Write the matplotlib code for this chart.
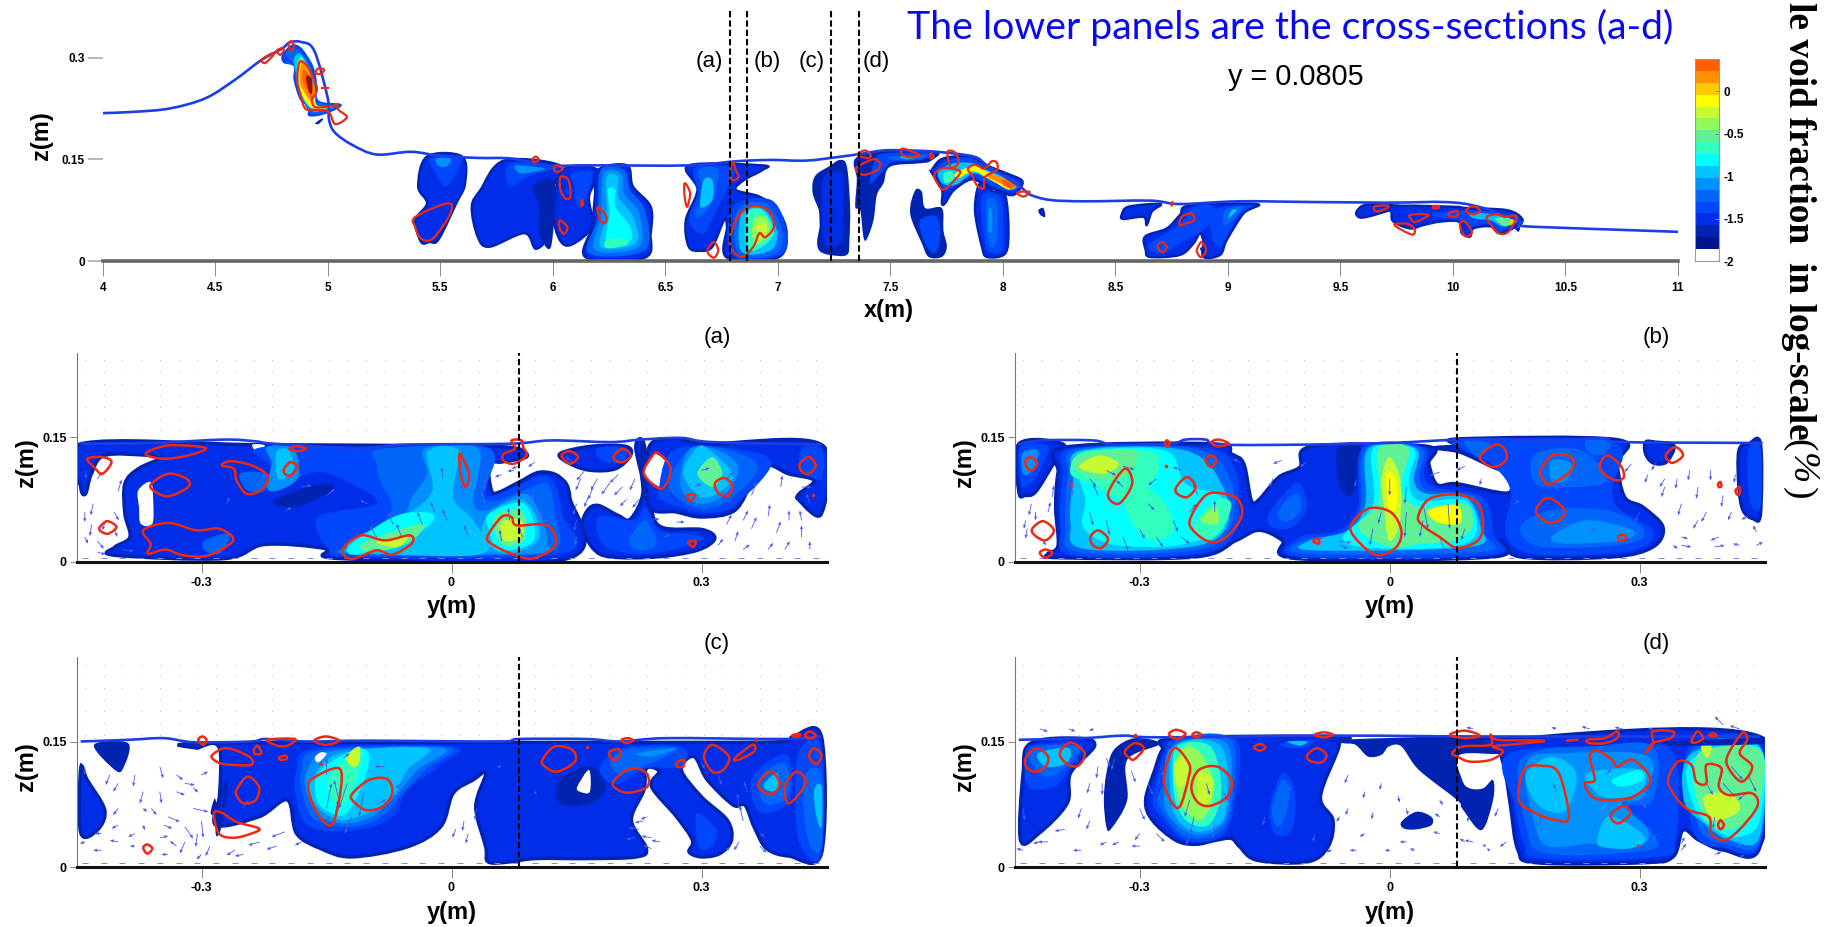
import numpy as np
import matplotlib
matplotlib.use("Agg")
import matplotlib.pyplot as plt
from matplotlib.path import Path
from matplotlib.patches import PathPatch
from matplotlib.colors import ListedColormap

# all outlines below were read off the picture, lengths in mm
# each fill is (colour level, outline); level 3 gets a darker rim

level_colours = ['#ffffff', '#00148c', '#0023b0', '#002de8', '#0046fa', '#0066fa', '#0091ff', '#00c3ff',
                 '#00ffff', '#30ffbe', '#60f096', '#91fa5a', '#c8fa32', '#ffff00', '#ffc800', '#ff9100', '#ff5f00']
deep_red = '#a01000'
bar_edges = [-2, -1.86, -1.72, -1.58, -1.44, -1.3, -1.16, -1.02, -0.88, -0.74, -0.6, -0.46, -0.32, -0.18, -0.04, 0.1, 0.24, 0.38]
bar_ticks = [-2, -1.5, -1, -0.5, 0]
section_x = [6.786, 6.861, 7.237, 7.36]
section_names = ['(a)', '(b)', '(c)', '(d)']
cut_y = 0.0805

top_surface = [(4000,218),(4143,220),(4300,225),(4457,240),(4587,267),(4704,296),(4796,313),(4830,322),(4880,323),
               (4940,310),(5000,240),(5005,210),(5030,190),(5110,171),(5217,157),(5370,161),(5500,155),(5665,152),(5821,151),
               (5978,141),(6135,141),(6213,141),(6605,141),(6813,147),(6970,149),(7126,148),(7283,154),(7370,158),(7470,163),
               (7577,163),(7706,161),(7870,154),(7930,141),(8075,110),(8120,98),(8210,90),(8365,88),(8655,89),(8786,84),
               (9047,88),(9360,87),(9700,86),(10040,85),(10290,60),(10300,52),(10480,49),(10740,46),(11000,43)]

top_fills = [
    (3, [(5441,154),(5597,154),(5610,114),(5571,85),(5493,32),(5453,28),(5415,28),(5389,60),(5441,85),(5402,110)]),
    (4, [(5454,151),(5584,154),(5571,129),(5519,110),(5480,129)]),
    (6, [(5480,151),(5545,151),(5532,140),(5493,140)]),
    (3, [(5783,148),(6031,141),(6005,110),(5992,45),(5926,18),(5874,41),(5718,21),(5666,36),(5640,80),(5679,105)]),
    (4, [(5810,144),(6018,139),(5887,124),(5810,110)]),
    (6, [(5835,141),(5965,136),(5861,129)]),
    (2, [(5913,110),(6005,115),(5992,21),(5939,41),(5939,80)]),
    (3, [(6044,134),(6200,134),(6161,95),(6174,51),(6083,24),(6031,31),(6005,70)]),
    (4, [(6083,129),(6174,131),(6148,95),(6109,80),(6096,110)]),
    (3, [(6200,134),(6330,141),(6356,110),(6435,80),(6435,41),(6409,5),(6148,5),(6174,51),(6187,95)]),
    (5, [(6213,134),(6317,134),(6343,105),(6409,75),(6409,16),(6161,11),(6200,65)]),
    (6, [(6226,129),(6304,129),(6317,100),(6383,70),(6383,21),(6187,16),(6213,65)]),
    (7, [(6239,124),(6291,124),(6291,95),(6357,65),(6370,26),(6213,21),(6239,70)]),
    (8, [(6244,105),(6278,105),(6278,80),(6343,51),(6343,29),(6239,24),(6252,70)]),
    (9, [(6239,31),(6317,33),(6330,24),(6239,19)]),
    (3, [(6605,141),(6931,141),(6931,134),(6853,120),(6813,105),(6918,95),(7000,75),(7039,41),(7000,5),(6774,5),(6774,50),
         (6761,60),(6709,21),(6656,15),(6604,21),(6591,60),(6643,105)]),
    (4, [(6631,137),(6800,137),(6774,105),(6735,80),(6670,41),(6605,60),(6643,100)]),
    (5, [(6645,134),(6735,134),(6709,90),(6656,65),(6631,70),(6670,100)]),
    (7, [(6670,119),(6709,119),(6709,90),(6656,80)]),
    (4, [(6800,80),(6970,90),(7039,45),(7013,9),(6800,9)]),
    (5, [(6820,75),(6945,85),(7018,45),(6992,11),(6826,11)]),
    (7, [(6839,70),(6931,78),(6996,45),(6970,16),(6839,14)]),
    (9, [(6865,70),(6931,75),(6983,43),(6931,21),(6865,19)]),
    (11, [(6891,60),(6944,65),(6965,41),(6925,28),(6891,26)]),
    (12, [(6905,52),(6944,55),(6950,41),(6915,33)]),
    (2, [(7277,149),(7307,139),(7321,80),(7318,31),(7307,9),(7230,9),(7185,15),(7175,30),(7190,65),(7155,100),(7165,125),(7230,140)]),
    (3, [(7200,125),(7290,130),(7295,85),(7290,30),(7210,20),(7190,65)]),
    (2, [(7344,151),(7470,163),(7707,161),(7677,147),(7632,144),(7499,139),(7470,115),(7440,97),(7425,60),(7395,32),(7380,36),(7366,75),(7344,80),(7351,120)]),
    (4, [(7440,154),(7484,159),(7692,159),(7632,149),(7514,146),(7470,134),(7410,114),(7425,144)]),
    (5, [(7499,154),(7662,156),(7603,149),(7514,149)]),
    (7, [(7544,154),(7632,154),(7573,150)]),
    (2, [(7610,104),(7640,102),(7655,78),(7729,78),(7736,45),(7751,21),(7729,6),(7670,6),(7640,26),(7588,70)]),
    (4, [(7632,60),(7707,65),(7721,31),(7692,11),(7647,31)]),
    (3, [(7684,134),(7721,149),(7781,154),(7862,154),(7929,141),(8018,129),(8084,119),(8077,107),(8040,97),(7966,105),(7914,114),
         (7855,120),(7781,104),(7743,85),(7729,85),(7729,105),(7684,130)]),
    (4, [(7707,137),(7781,151),(7862,151),(7929,139),(8069,117),(8062,105),(8040,102),(7966,109),(7914,117),(7855,124),(7781,110),(7736,105)]),
    (7, [(7714,132),(7781,144),(7869,144),(7929,134),(8055,117),(8040,105),(7944,119),(7870,129),(7788,112),(7729,115)]),
    (9, [(7736,129),(7773,132),(7781,120),(7744,115)]),
    (13, [(7788,129),(7870,140),(7929,132),(8033,115),(8025,105),(7944,120),(7870,132),(7803,122)]),
    (15, [(7936,129),(7988,124),(8055,115),(8040,106),(7973,117),(7929,124)]),
    (16, [(7996,120),(8055,115),(8036,107),(8003,112)]),
    (3, [(7884,102),(7906,115),(7958,102),(8010,97),(8025,46),(8010,11),(7929,6),(7907,21),(7877,70)]),
    (4, [(7906,95),(7988,95),(8003,50),(7996,16),(7936,14),(7914,41)]),
    (5, [(7929,90),(7973,85),(7973,31),(7944,21),(7929,41)]),
    (6, [(7936,75),(7951,75),(7951,45),(7936,45)]),
    (2, [(8158,75),(8180,78),(8188,65),(8166,68)]),
    (3, [(8528,68),(8558,80),(8699,84),(8662,73),(8639,53),(8625,65),(8536,62)]),
    (3, [(8632,36),(8728,48),(8787,68),(8832,82),(9128,84),(9069,70),(8995,31),(8965,9),(8891,6),(8891,28),(8876,41),(8847,26),
         (8787,9),(8654,6),(8635,16)]),
    (4, [(8654,26),(8787,55),(8847,80),(8936,80),(8906,50),(8787,26),(8713,11),(8654,16)]),
    (4, [(8936,75),(9113,82),(9054,70),(8995,36),(8965,21),(8928,36)]),
    (5, [(8987,75),(9069,80),(9002,55),(8980,55)]),
    (7, [(9017,75),(9040,75),(9002,63)]),
    (2, [(8876,19),(8898,19),(8891,9)]),
    (3, [(9572,73),(9617,83),(9765,81),(9721,75),(9617,65),(9580,65)]),
    (3, [(9728,70),(9736,81),(10002,80),(10062,78),(10239,75),(10306,63),(10292,53),(10210,41),(10165,51),(10091,48),(10076,36),(10039,41),
         (10025,58),(9943,58),(9869,53),(9809,48),(9736,58)]),
    (4, [(9913,70),(10062,75),(10239,70),(10292,60),(10210,43),(10165,55),(10076,51),(10032,60),(9943,63)]),
    (7, [(10076,70),(10150,70),(10284,60),(10225,51),(10165,60),(10091,63)]),
    (10, [(10192,63),(10284,63),(10232,51)]),
    (14, [(10254,60),(10291,61),(10254,53)]),
    (2, [(10276,48),(10298,50),(10291,43)]),
    (2, [(4944,203),(4973,210),(4978,208),(4959,202)]),
    (4, [(4796,304),(4840,319),(4877,316),(4907,304),(4936,287),(4951,267),(4959,237),(5055,232),(5048,225),(4973,215),(4914,214),(4914,228),(4877,237),(4848,267),(4848,287),(4803,292)]),
    (5, [(4810,304),(4840,314),(4877,309),(4922,287),(4944,262),(4951,235),(5043,228),(4973,219),(4922,218),(4885,242),(4855,272),(4855,289)]),
    (7, [(4848,296),(4877,306),(4922,282),(4944,252),(4951,230),(5033,228),(4944,220),(4907,230),(4877,247),(4862,272)]),
    (10, [(4862,287),(4885,301),(4914,279),(4944,247),(4951,228),(5018,227),(4944,223),(4907,232),(4877,252)]),
    (13, [(4870,287),(4889,294),(4919,277),(4936,252),(4951,230),(5010,227),(4936,225),(4899,237),(4877,257)]),
    (15, [(4877,282),(4892,292),(4929,267),(4944,250),(4929,235),(4899,247),(4877,262)]),
    (16, [(4892,282),(4922,272),(4936,255),(4929,240),(4907,252),(4889,267)]),
]
top_dark_core = [(4904,272),(4929,269),(4929,247),(4914,252)]

top_red = [
    [(4707,297),(4751,306),(4759,304),(4722,292)], [(4773,310),(4800,314),(4803,309),(4788,304)],
    [(4825,319),(4837,324),(4850,317),(4836,310)],
    [(4867,282),(4877,294),(4899,291),(4922,279),(4951,257),(4944,245),(4929,238),(4944,227),(5010,228),(5043,230),(5047,223),(5085,212),(5033,202),(5003,220),(4936,223),(4899,225),(4877,247),(4865,262)],
    [(4944,277),(4959,284),(4984,282),(4969,276)], [(4973,255),(5003,255)],
    [(5389,65),(5532,85),(5545,70),(5467,33),(5415,33),(5389,50)],
    [(5910,150),(5925,154),(5938,149),(5920,146)], [(6005,136),(6018,141),(6044,136),(6018,131)],
    [(6034,124),(6070,119),(6078,95),(6057,92),(6034,105)], [(6128,90),(6135,85),(6128,81)],
    [(6200,80),(6239,65),(6226,55),(6205,65)], [(6031,60),(6065,50),(6049,40),(6031,48)],
    [(6586,115),(6610,100),(6597,80),(6586,95)], [(6691,19),(6717,28),(6735,16),(6717,5),(6691,11)],
    [(6787,23),(6813,60),(6878,80),(6957,75),(6983,51),(6944,35),(6918,41),(6891,21),(6839,6)],
    [(6800,146),(6813,134),(6826,124),(6800,119),(6787,129)],
    [(7355,158),(7388,163),(7413,156),(7403,152),(7366,154)], [(7348,137),(7425,150),(7455,143),(7440,134),(7380,127)],
    [(7546,164),(7566,165),(7629,156),(7588,153),(7555,156)], [(7677,159),(7692,154),(7680,151)],
    [(7754,161),(7788,160),(7803,147),(7788,139),(7766,139)], [(7695,127),(7736,137),(7810,132),(7773,115),(7736,105),(7714,112)],
    [(7844,136),(7877,142),(7914,136),(7929,139),(7951,147),(7973,145),(7973,134),(7921,124),(7914,107),(7884,112),(7862,127)],
    [(8062,101),(8118,102),(8092,95)],
    [(8785,53),(8795,65),(8839,70),(8851,60),(8810,55)], [(8687,21),(8706,28),(8728,21),(8710,13)],
    [(8862,17),(8884,28),(8903,16),(8884,6),(8869,9)], [(8750,87),(8756,85),(8750,82)],
    [(9650,80),(9706,82),(9708,78),(9661,73)], [(9809,68),(9891,68),(9839,58),(9821,59)],
    [(9740,53),(9795,55),(9829,47),(9817,39)], [(9981,70),(10018,74),(10018,66),(9985,66)],
    [(9913,81),(9935,81),(9935,78),(9913,78)], [(10057,74),(10091,81),(10121,74),(10091,69)],
    [(10032,56),(10054,58),(10084,43),(10062,36),(10040,43)],
    [(10150,65),(10195,69),(10232,65),(10283,66),(10246,43),(10202,41),(10165,55)],
]

panel_a_surface = [(-445,142),(-358,143),(-273,147),(-236,145),(-212,142),(-114,137),(-53,141),(69,142),(120,146),(191,144),(227,147),(276,149),(313,144),(444,141)]
panel_a_fills = [
    (3, [(-445,142),(-445,90),(-439,82),(-432,106),(-416,128),(-364,128),(-349,125),(-376,112),(-392,94),(-392,58),(-386,30),(-404,18),(-404,8),(-273,4),(-224,21),(-151,16),(-132,4),(139,4),(142,78),(130,102),(106,108),(81,96),(57,84),(48,86),(45,118),(60,120),(90,126),(81,136),(45,139),(-53,140),(-236,141)]),
    (0, [(-239,141),(-224,140),(-233,132)]),
    (0, [(-375,66),(-376,86),(-361,96),(-358,74),(-359,46),(-373,46)]),
    (2, [(-213,74),(-157,94),(-142,86),(-188,66)]),
    (4, [(-227,138),(-53,137),(45,137),(41,86),(51,80),(84,94),(109,104),(124,94),(133,58),(133,10),(-114,6),(-148,16),(-160,54),(-90,70),(-120,94),(-157,108),(-187,100),(-218,84),(-218,114)]),
    (5, [(-84,136),(45,136),(38,82),(54,74),(87,86),(115,94),(124,58),(124,14),(38,8),(-114,8),(-132,16),(-90,42),(-71,66),(-84,94),(-90,118)]),
    (6, [(-32,136),(32,136),(26,74),(41,62),(87,82),(106,58),(115,22),(99,10),(-114,10),(-126,18),(-65,46),(-47,78),(-29,106)]),
    (7, [(-29,132),(8,134),(2,78),(26,50),(38,10),(-90,10),(-123,16),(-114,30),(-53,58),(-23,86)]),
    (7, [(45,58),(87,74),(106,30),(69,10),(38,26)]),
    (8, [(-120,22),(-65,56),(-23,58),(-29,42),(-65,22),(-102,10),(-123,10)]),
    (8, [(45,58),(87,70),(99,26),(57,14),(45,38)]),
    (10, [(-108,22),(-53,42),(-32,44),(-53,22),(-96,12)]),
    (10, [(51,54),(84,62),(87,26),(60,22)]),
    (12, [(-90,24),(-53,32),(-65,18)]),
    (12, [(60,48),(84,50),(84,30),(63,26)]),
    (6, [(-222,138),(-190,136),(-184,102),(-208,86),(-222,90),(-216,118)]),
    (7, [(-210,132),(-195,134),(-190,110),(-208,100)]),
    (5, [(-296,26),(-266,34),(-278,10),(-296,14)]),
    (5, [(-254,106),(-224,106),(-224,86),(-245,86)]),
    (3, [(130,130),(167,139),(209,139),(215,128),(197,112),(167,110),(142,118)]),
    (4, [(175,137),(209,137),(205,120),(180,122)]),
    (3, [(221,138),(231,142),(239,70),(252,42),(301,39),(316,28),(295,14),(246,6),(191,6),(170,16),(157,42),(163,62),(176,68),(200,56),(215,52),(230,86)]),
    (2, [(226,138),(232,140),(237,72),(228,88)]),
    (4, [(176,54),(220,50),(232,66),(250,38),(287,34),(300,26),(240,10),(185,18)]),
    (5, [(213,26),(232,50),(246,22),(225,14)]),
    (3, [(237,68),(237,138),(270,148),(307,142),(444,141),(444,58),(417,74),(417,82),(435,98),(404,106),(380,116),(362,98),(340,62),(301,54),(270,60)]),
    (0, [(231,106),(243,130),(263,112),(255,90),(237,98)]),
    (4, [(248,82),(266,134),(340,136),(384,118),(336,66),(296,60),(252,74)]),
    (5, [(261,90),(285,134),(327,136),(368,114),(332,74),(297,64)]),
    (6, [(275,90),(284,134),(315,136),(344,114),(327,80),(297,70)]),
    (7, [(278,106),(295,138),(310,134),(337,106),(325,86),(300,78)]),
    (10, [(295,106),(313,126),(325,106),(313,90)]),
    (4, [(420,136),(444,136),(444,100),(420,110)]),
]
panel_a_red = [
    [(-437,124),(-419,126),(-408,120),(-419,106),(-429,114)], [(-367,130),(-340,140),(-295,137),(-316,128),(-346,124)],
    [(-360,94),(-340,106),(-318,100),(-316,90),(-340,79),(-358,86)], [(-276,116),(-264,121),(-237,115),(-220,102),(-229,86),(-246,82),(-258,98),(-261,112)],
    [(-195,136),(-185,139),(-175,136),(-185,133)], [(-201,112),(-193,120),(-185,114),(-193,104),(-200,106)],
    [(-422,42),(-413,49),(-402,42),(-412,34),(-421,37)], [(-370,38),(-340,47),(-306,38),(-279,40),(-262,26),(-292,8),(-322,8),(-343,15),(-364,10),(-361,22)],
    [(-129,18),(-108,32),(-80,26),(-50,32),(-48,22),(-71,9),(-90,14),(-117,4),(-129,8)], [(10,130),(21,106),(17,90),(11,106)],
    [(72,146),(84,146),(86,138),(90,128),(75,118),(62,122),(63,130),(76,136)], [(43,30),(60,54),(72,54),(78,44),(112,45),(125,30),(121,16),(96,4),(72,10),(51,20)],
    [(132,128),(142,133),(152,126),(142,118)], [(195,128),(206,136),(215,128),(206,120),(197,122)],
    [(240,126),(248,131),(263,112),(252,88),(231,106)], [(283,81),(292,80),(286,73)],
    [(316,94),(327,101),(337,92),(332,80),(321,82)], [(284,24),(293,25),(290,18)], [(418,118),(429,126),(437,116),(429,106),(420,109)],
]
panel_a_dots = [(434,80)]
panel_a_arrows = [(-430,70,-3,-14),(-432,45,-2,-14),(-425,25,8,-9),(-405,60,6,-10),(-400,85,4,14),(-425,100,6,8),(-440,30,4,-8),
                  (155,100,-6,-14),(170,90,-6,-15),(190,95,-10,-14),(205,90,-10,-10),(225,75,-8,-10),(150,70,-4,-14),(165,80,-6,-14),(145,120,-8,6),
                  (100,120,-8,-6),(80,115,-8,-3),(240,50,10,2),(270,48,10,0),(330,45,6,12),(360,40,6,14),(390,35,5,14),(420,30,0,14),(340,25,4,12),(380,15,6,8),(420,50,-2,12),
                  (-20,60,-5,12),(-5,50,-6,13),(20,30,-5,14),(-60,30,-6,16),(-35,45,-6,15),(40,100,0,-14),(-180,90,12,2),(70,50,-2,15),(100,70,-3,12),(300,110,10,3),(420,90,12,0),
                  (-440,60,0,-12),(-415,50,-4,-12),(-405,40,4,-10),(-395,15,14,-2),(-425,12,10,-3),(-440,110,2,-10),(60,105,-8,-3),(75,110,-8,-1),(150,50,-3,-13),(160,110,-10,-12),
                  (175,100,-8,-14),(210,75,-8,-8),(200,105,-10,-10),(220,100,-6,-14),(150,30,-2,-10),(255,30,8,3),(320,20,6,8),(350,15,8,6),(400,15,6,10),(430,15,0,10),(405,50,0,12),
                  (380,55,2,14),(350,50,6,12),(360,80,6,16),(395,90,2,14),(430,70,-4,12),(-270,70,4,8),(-200,60,8,6),(-100,70,-10,4),(-150,80,10,8),(-10,100,-2,14),(15,80,-4,14),
                  (40,70,-4,14),(60,25,-2,14),(85,30,-4,12),(110,50,-3,12),(-70,45,-6,14),(-90,30,-8,14),(290,90,10,4),(330,100,8,8)]

panel_b_surface = [(-446,141),(-417,146),(-356,146),(-331,141),(-264,142),(-245,147),(-221,147),(-203,141),(-99,141),(0,143),(84,147),(151,147),(181,144),(236,148),(261,148),(279,144),(426,143),(445,142)]
panel_b_fills = [
    (3, [(-445,142),(-391,141),(-406,114),(-425,84),(-437,80),(-445,84)]),
    (4, [(-443,138),(-410,138),(-422,106),(-437,90),(-443,98)]),
    (6, [(-441,130),(-422,134),(-428,110),(-440,106)]),
    (3, [(-401,66),(-398,108),(-389,138),(-212,142),(-190,130),(-175,118),(-166,74),(-157,75),(-133,102),(-108,114),(-93,139),(45,139),(47,118),(57,93),(81,94),(142,83),(139,106),(121,115),(84,132),(54,137),(81,140),(84,148),(273,147),(273,118),(282,78),(304,66),(328,42),(316,18),(267,6),(157,6),(133,26),(124,6),(-111,4),(-129,26),(-157,38),(-184,26),(-233,6),(-395,5),(-410,10),(-398,20)]),
    (2, [(-62,138),(-35,138),(-41,90),(-50,78),(-62,98)]),
    (4, [(-392,106),(-380,137),(-220,137),(-185,110),(-181,74),(-184,38),(-227,10),(-380,8),(-395,42)]),
    (5, [(-386,106),(-374,136),(-233,136),(-191,98),(-191,42),(-233,14),(-374,12),(-389,42)]),
    (7, [(-380,98),(-371,134),(-245,134),(-200,90),(-196,42),(-239,18),(-368,16),(-383,46)]),
    (8, [(-374,106),(-368,132),(-270,134),(-245,94),(-202,78),(-202,38),(-245,22),(-282,18),(-337,22),(-368,42),(-365,74)]),
    (9, [(-383,106),(-368,132),(-294,134),(-276,122),(-288,90),(-319,74),(-356,94)]),
    (10, [(-380,114),(-368,130),(-306,134),(-312,106),(-343,98)]),
    (12, [(-373,114),(-349,128),(-325,118),(-343,106)]),
    (9, [(-236,42),(-209,74),(-190,70),(-202,38),(-221,26)]),
    (11, [(-227,50),(-209,66),(-206,46)]),
    (9, [(-312,98),(-276,78),(-258,42),(-282,26),(-306,42),(-319,74)]),
    (4, [(-145,58),(-123,86),(-108,94),(-99,66),(-117,42),(-142,42)]),
    (5, [(-135,58),(-120,78),(-108,80),(-108,60),(-125,48)]),
    (4, [(-32,138),(41,138),(41,106),(54,90),(112,78),(124,34),(121,8),(-108,6),(-108,30),(-62,38),(-38,66)]),
    (5, [(-29,137),(38,137),(35,102),(47,86),(103,78),(114,34),(111,12),(-102,10),(-105,26),(-56,36),(-35,66)]),
    (7, [(-26,136),(32,136),(29,98),(44,82),(90,80),(109,42),(96,18),(-93,14),(-96,26),(-50,38),(-29,70)]),
    (8, [(-20,136),(29,136),(23,98),(35,74),(90,74),(105,42),(90,22),(41,16),(-32,18),(-56,30),(-20,70)]),
    (10, [(-13,136),(23,136),(14,90),(35,66),(90,70),(99,42),(78,26),(35,22),(-1,18),(-38,42),(-13,74)]),
    (12, [(-1,126),(11,106),(14,78),(11,42),(-1,26),(-7,66),(-10,98)]),
    (13, [(47,62),(81,68),(84,46),(57,48)]),
    (13, [(-4,106),(8,98),(8,66),(-1,62)]),
    (4, [(87,146),(267,144),(267,90),(273,66),(316,38),(304,18),(261,10),(169,10),(139,34),(145,86),(121,118),(90,134)]),
    (5, [(175,130),(230,134),(261,98),(218,90),(175,94)]),
    (5, [(157,42),(194,62),(261,62),(304,40),(286,22),(182,18)]),
    (6, [(194,122),(218,118),(212,98),(194,98)]),
    (6, [(194,30),(236,50),(292,38),(279,26),(212,22)]),
    (5, [(90,146),(120,142),(108,126),(96,134)]),
    (5, [(236,146),(264,146),(258,130),(240,130)]),
    (3, [(307,144),(319,144),(341,140),(332,120),(316,119),(307,130)]),
    (3, [(419,134),(431,142),(445,142),(445,58),(436,52),(424,62),(419,90)]),
    (4, [(430,134),(445,138),(445,66),(432,74)]),
]
panel_b_red = [
    [(-437,122),(-431,126),(-423,119),(-429,110),(-436,114)], [(-429,40),(-416,49),(-403,38),(-413,26),(-426,32)],
    [(-420,11),(-413,15),(-405,11),(-413,5)], [(-359,30),(-350,38),(-338,28),(-346,17),(-356,20)],
    [(-338,82),(-318,112),(-309,94),(-325,70)], [(-256,90),(-243,102),(-233,90),(-243,78),(-255,82)],
    [(-240,50),(-221,80),(-199,82),(-181,74),(-178,54),(-196,30),(-214,24),(-232,34)], [(-221,122),(-214,128),(-208,122),(-214,114)],
    [(-214,144),(-205,147),(-193,142),(-207,139)], [(-270,143),(-267,146),(-264,142),(-267,139)], [(-47,42),(-26,64),(1,60),(14,38),(8,18),(-14,8),(-35,22)],
    [(34,54),(48,76),(81,81),(106,70),(112,46),(106,26),(81,17),(60,30),(42,42)], [(-92,25),(-86,28),(-85,22)],
    [(108,126),(127,141),(139,134),(139,122),(124,114)], [(181,110),(196,128),(218,126),(218,110),(194,94),(185,98)],
    [(252,116),(261,128),(277,116),(281,102),(271,98),(257,106)], [(176,64),(190,77),(209,64),(206,52),(192,47),(180,54)],
    [(274,30),(280,33),(284,29),(277,25)], [(331,128),(343,138),(352,128),(339,119)], [(394,94),(397,96),(398,91),(395,90)],
    [(415,86),(420,90),(420,82),(417,81)],
]
panel_b_dots = [(-382,94),(-269,115)]
panel_b_arrows = [(-430,70,-3,-14),(-420,30,8,-10),(-435,40,-2,-12),(-405,78,2,14),(-410,60,3,12),
                  (-130,122,-10,-4),(-100,120,-8,-6),(-140,100,-4,-10),(60,108,-12,-4),(90,115,-10,-5),(-180,120,-8,4),
                  (290,118,-8,-10),(310,105,-4,-10),(330,90,-4,-12),(350,70,-4,-14),(370,50,-6,-10),(395,30,-10,-4),(420,20,-8,2),(440,36,-4,8),
                  (360,110,-2,-12),(385,110,0,-12),(400,80,-2,-14),(350,30,8,-2),(330,100,-6,-10),(415,105,-2,-10),(340,20,6,-4),
                  (-320,90,-8,8),(-290,70,8,-8),(-260,50,6,-14),(-350,80,-6,14),(-240,60,8,10),(-300,40,6,-12),(20,90,-2,-20),(40,50,-4,-20),(60,30,8,-22),(-10,60,-4,-14),(-60,20,10,-4),
                  (-437,50,-2,-10),(-425,60,0,-10),(-360,100,8,-10),(-340,110,12,-6),(-320,115,14,-4),(-380,80,-2,14),(-360,60,4,-16),(-340,50,4,-18),(-320,30,6,-16),(-280,100,-10,-8),
                  (-250,110,-10,4),(-230,80,-6,14),(-280,30,8,-12),(-250,30,10,-8),(-210,60,0,14),(-120,55,6,4),(-90,30,10,-2),(-60,25,14,-2),(-40,100,-2,-10),(-20,40,-4,-20),(0,100,0,-20),
                  (20,60,-2,-30),(40,70,6,-30),(70,70,2,-30),(90,40,-4,-14),(110,100,-2,-8),(150,70,6,4),(200,40,10,2),(240,40,8,-2),(300,40,-6,-8),(300,60,-6,-12),(320,120,-6,-10),
                  (345,100,-2,-12),(370,90,-2,-14),(380,60,-6,-12),(410,60,-4,-10),(430,55,-8,-4),(350,20,12,-2),(390,18,12,2),(440,20,8,4)]

panel_c_surface = [(-445,150),(-388,152),(-345,154),(-308,149),(-241,150),(-223,153),(-175,150),(-102,151),(56,150),(81,153),(161,153),(203,150),(258,154),(398,153),(444,156)]
panel_c_fills = [
    (3, [(-445,118),(-437,104),(-416,68),(-425,44),(-445,41)]),
    (2, [(-429,146),(-388,148),(-394,118),(-404,116)]),
    (3, [(-306,142),(-297,148),(60,149),(300,149),(398,150),(410,156),(444,156),(444,16),(405,13),(378,22),(363,48),(352,74),(338,74),(307,104),(291,132),(276,116),(300,84),(331,56),(336,32),(322,16),(300,12),(285,18),(289,32),(270,60),(240,96),(249,114),(234,118),(231,92),(216,56),(234,22),(222,12),(167,10),(101,10),(70,6),(44,6),(41,24),(29,72),(41,112),(26,104),(2,88),(-13,48),(-53,24),(-120,12),(-157,22),(-186,40),(-197,80),(-231,60),(-284,51),(-270,100),(-281,40),(-278,140)]),
    (2, [(-289,64),(-284,82),(-281,64)]),
    (2, [(130,104),(167,120),(185,96),(167,76),(130,76)]),
    (4, [(-186,116),(-162,142),(2,144),(-16,120),(-53,92),(-71,60),(-114,44),(-170,48),(-186,80)]),
    (5, [(-180,116),(-157,140),(-4,143),(-29,118),(-59,88),(-84,60),(-120,48),(-163,56),(-178,84)]),
    (6, [(-174,112),(-145,138),(-10,142),(-41,116),(-68,84),(-96,60),(-126,52),(-157,60),(-172,84)]),
    (7, [(-168,104),(-133,136),(-29,142),(-53,116),(-71,84),(-102,64),(-133,56),(-157,68),(-168,84)]),
    (8, [(-160,112),(-130,134),(-102,140),(-102,112),(-126,64),(-151,68),(-163,84)]),
    (9, [(-148,104),(-126,132),(-108,142),(-114,104),(-132,72),(-145,84)]),
    (12, [(-126,132),(-111,144),(-111,124),(-120,120)]),
    (7, [(-84,136),(-53,142),(-53,132),(-77,130)]),
    (0, [(-164,131),(-157,137),(-150,135),(-160,125)]),
    (0, [(151,96),(165,116),(166,90),(154,90)]),
    (4, [(179,120),(203,142),(276,144),(276,120),(234,118),(203,100),(185,104)]),
    (5, [(191,124),(209,140),(270,142),(240,124),(203,112)]),
    (6, [(223,136),(270,142),(240,132)]),
    (4, [(364,112),(403,134),(406,80),(375,64),(360,84)]),
    (5, [(371,108),(401,124),(403,84),(375,76)]),
    (7, [(375,100),(391,112),(391,92),(378,92)]),
    (4, [(416,136),(444,144),(444,16),(422,20),(413,60)]),
    (5, [(422,104),(444,112),(444,24),(428,32)]),
    (7, [(435,92),(444,96),(444,48),(438,60)]),
    (4, [(294,64),(318,44),(312,24),(297,24)]),
]
panel_c_red = [
    [(-304,152),(-299,156),(-294,152),(-298,146)], [(-287,134),(-270,142),(-243,132),(-241,122),(-273,123),(-285,128)],
    [(-237,140),(-233,145),(-228,136),(-236,135)], [(-258,92),(-245,108),(-231,96),(-235,80),(-249,76),(-257,84)],
    [(-285,64),(-276,65),(-258,54),(-231,46),(-240,40),(-261,35),(-279,40)], [(-370,23),(-365,27),(-359,22),(-365,16)],
    [(-221,152),(-188,153),(-197,145),(-209,145)], [(-207,131),(-199,133),(-198,129),(-205,128)],
    [(-165,151),(-151,156),(-135,151),(-151,146)], [(-172,96),(-163,108),(-135,118),(-133,92),(-144,50),(-163,68)],
    [(-120,86),(-99,104),(-77,105),(-71,88),(-83,72),(-102,68),(-115,76)], [(109,128),(124,144),(145,140),(148,126),(127,114),(112,120)],
    [(189,137),(200,141),(203,134),(194,128)], [(194,102),(215,118),(234,112),(235,96),(215,89),(200,92)],
    [(204,152),(212,154),(218,151),(209,148)], [(271,125),(279,128),(278,120),(271,120)], [(303,132),(313,146),(333,132),(326,116),(313,114)],
    [(340,130),(361,146),(363,138),(344,128)], [(368,100),(383,114),(394,100),(386,88),(374,90)], [(400,96),(414,114),(425,100),(405,76)],
    [(429,132),(435,142),(444,134),(438,123)], [(424,157),(430,162),(437,157),(430,154)], [(410,158),(418,159),(417,156),(410,156)],
]
panel_c_dots = [(365,152),(163,143),(-157,123)]
panel_c_arrows = [(-410,110,-5,-12),(-380,110,-2,-14),(-350,120,4,-14),(-330,90,10,-4),(-400,70,-6,-8),(-360,70,6,-8),(-340,60,14,-6),(-310,70,18,-4),(-380,40,-8,-4),(-350,35,10,2),(-320,48,10,-14),
                  (-305,40,-2,-16),(-290,25,-5,-12),(-260,20,-10,-6),(-230,30,-14,-4),(-200,42,-16,-6),(-330,25,-8,6),(-400,30,-10,2),(-420,20,-10,0),(-370,70,5,-4),(-300,110,8,4),(-310,95,6,-6),
                  (30,70,-2,-14),(15,55,-2,-12),(235,60,-8,-3),(225,45,-12,2),(250,30,-10,2),(240,22,-10,4),(300,125,4,-8),(350,55,-4,18),(345,30,-6,-10),(370,25,8,-8),(-150,70,6,30),(-135,80,-6,24),(-120,60,-8,-20),(-125,100,-10,-30),(-90,75,12,6),(-130,130,8,6),(60,120,-6,0),
                  (-440,120,0,-10),(-400,100,-6,-10),(-370,90,-4,-14),(-350,90,2,-14),(-330,110,8,-6),(-320,100,12,-2),(-400,50,-8,-4),(-370,50,2,-6),(-345,50,10,-4),(-300,55,2,-20),(-320,30,-6,-14),(-300,15,-6,-6),
                  (-250,15,-10,-2),(-210,25,-12,-4),(-180,30,-8,-4),(-420,40,-8,0),(-440,30,-6,-2),(-380,25,-6,0),(-340,15,-8,0),(-250,70,6,10),(-150,110,0,20),(-105,90,-6,-30),(-140,60,4,20),(-80,120,-12,0),
                  (-60,100,-8,-6),(100,90,2,-4),(20,40,-3,-12),(5,45,-4,-10),(230,55,-10,-2),(240,35,-12,2),(220,35,-10,-2),(330,20,4,4),(345,70,-2,18),(355,90,-4,12),(370,40,6,-4),(320,110,4,-12)]

panel_d_surface = [(-445,152),(-368,154),(-319,157),(-276,155),(-62,157),(120,156),(444,156)]
panel_d_fills = [
    (3, [(-431,148),(-374,154),(-354,145),(-383,112),(-387,76),(-421,40),(-443,32),(-440,112)]),
    (4, [(-437,136),(-424,146),(-370,146),(-385,116),(-403,96),(-434,96)]),
    (5, [(-434,132),(-419,144),(-373,144),(-388,120),(-413,108)]),
    (7, [(-422,136),(-385,142),(-388,124),(-413,120)]),
    (2, [(-331,140),(-306,154),(-276,147),(-315,128),(-315,80),(-334,46),(-340,48),(-343,80),(-340,112)]),
    (3, [(-273,140),(-257,154),(-62,156),(-62,148),(-62,140),(-83,84),(-68,56),(-74,24),(-99,6),(-159,8),(-180,24),(-190,34),(-208,32),(-233,27),(-257,32),(-285,56),(-293,80),(-282,116)]),
    (4, [(-270,136),(-257,152),(-184,152),(-187,72),(-203,36),(-245,32),(-278,64),(-284,84)]),
    (5, [(-264,112),(-254,152),(-190,152),(-190,72),(-206,40),(-245,36),(-272,64),(-278,84)]),
    (6, [(-261,144),(-196,148),(-193,72),(-209,44),(-239,40),(-267,64),(-270,96)]),
    (7, [(-258,144),(-202,144),(-196,72),(-209,48),(-239,44),(-261,72)]),
    (9, [(-255,144),(-215,144),(-202,92),(-215,52),(-239,52),(-255,72),(-260,104)]),
    (11, [(-258,120),(-245,144),(-227,136),(-212,104),(-215,72),(-230,56),(-249,72),(-258,100)]),
    (12, [(-258,124),(-245,132),(-242,104),(-254,96)]),
    (12, [(-230,112),(-212,104),(-218,76),(-230,76)]),
    (4, [(-144,72),(-129,112),(-114,92),(-117,44),(-138,40)]),
    (5, [(-141,72),(-129,104),(-120,88),(-129,52),(-138,52)]),
    (4, [(-129,148),(-93,152),(-99,144),(-124,142)]),
    (7, [(-123,150),(-99,150),(-108,145)]),
    (2, [(-62,152),(139,156),(139,136),(84,134),(87,104),(96,94),(112,94),(124,104),(124,80),(110,44),(87,70),(81,80),(35,116),(14,144),(-1,144),(-10,134),(-26,132),(-41,146),(-56,148)]),
    (2, [(14,54),(32,66),(50,60),(50,50),(32,45),(17,46)]),
    (3, [(133,136),(133,152),(444,156),(444,23),(401,20),(371,32),(352,44),(340,12),(303,5),(176,5),(154,20),(145,72),(139,112)]),
    (4, [(145,136),(303,144),(331,148),(346,112),(343,32),(322,12),(182,10),(161,28),(151,72)]),
    (5, [(154,120),(182,140),(243,144),(316,144),(316,80),(286,72),(316,40),(310,20),(188,16),(164,48)]),
    (6, [(164,124),(212,136),(310,132),(304,84),(279,76),(310,44),(298,24),(243,28),(194,24),(176,44)]),
    (7, [(164,112),(194,132),(224,112),(212,68),(188,68),(170,84)]),
    (7, [(249,32),(261,60),(292,48),(307,32),(286,22),(255,24)]),
    (7, [(237,112),(304,116),(298,88),(255,84)]),
    (8, [(267,104),(298,116),(304,104),(279,96)]),
    (4, [(359,144),(444,146),(444,26),(401,23),(365,42)]),
    (5, [(362,140),(444,144),(444,30),(405,27),(371,48)]),
    (7, [(362,136),(444,144),(444,36),(408,32),(377,52),(353,80)]),
    (8, [(362,128),(444,142),(444,56),(419,36),(395,42),(365,72)]),
    (10, [(377,140),(444,140),(444,80),(419,48),(388,48),(370,76),(365,112)]),
    (12, [(377,84),(408,88),(420,68),(389,56)]),
    (12, [(374,145),(386,145),(383,132),(377,134)]),
    (2, [(338,150),(444,154),(444,147),(338,145)]),
]
panel_d_red = [
    [(-437,130),(-424,142),(-410,132),(-413,120),(-424,114),(-435,118)], [(-396,136),(-383,149),(-366,136),(-374,121),(-387,123)],
    [(-318,138),(-306,148),(-295,142),(-306,129),(-312,130)], [(-271,106),(-259,142),(-241,124),(-241,108),(-252,72),(-263,80)],
    [(-238,96),(-229,116),(-207,120),(-190,104),(-195,84),(-216,73),(-231,78)], [(-265,159),(-256,164),(-245,159),(-256,153)],
    [(-237,158),(-232,161),(-226,158),(-232,155)], [(-163,143),(-156,147),(-149,143),(-156,139)], [(-99,134),(-87,142),(-76,134),(-82,125),(-96,127)],
    [(-90,158),(-79,161),(-68,158),(-79,155)], [(72,158),(90,163),(108,157),(90,154)],
    [(75,136),(87,144),(121,146),(121,158),(130,152),(185,151),(152,147),(124,144),(136,138),(121,128),(96,126),(81,132)],
    [(213,151),(225,152)], [(237,152),(258,154),(273,162),(273,154),(258,148),(240,148)],
    [(155,80),(161,116),(182,121),(203,112),(215,60),(200,56),(176,64)], [(234,100),(246,104),(240,132),(249,139),(267,128),(273,120),(292,128),(313,104),(292,84),(261,80),(243,84)],
    [(265,62),(280,73),(289,64),(274,52)], [(307,136),(316,148),(316,162),(340,162),(337,154),(316,148)], [(362,150),(369,162),(376,154),(368,149)],
    [(334,104),(346,126),(362,122),(368,102),(380,100),(380,122),(398,118),(395,96),(407,86),(435,88),(441,72),(419,44),(401,32),(386,40),(383,60),(359,68),(343,84)],
    [(405,132),(423,160),(429,152),(420,136),(435,120),(423,102),(408,116)], [(394,50),(397,56),(401,50),(397,45)], [(383,158),(389,160),(392,157),(387,156)],
]
panel_d_dots = [(298,25),(-306,158)]
panel_d_arrows = [(-330,130,-4,-14),(-350,120,-2,-14),(-370,70,-4,-12),(-360,100,-3,-12),(-310,115,5,-14),(-300,70,6,-14),(-280,40,10,-10),(-390,45,-12,-2),(-410,30,-12,0),(-440,20,-8,2),
                  (-340,30,-8,-4),(-300,25,-10,0),(-50,110,-4,-10),(-30,90,-2,-8),(-10,100,-2,-8),(10,85,2,-8),(-60,60,-4,-6),(-30,40,-6,-4),(20,30,-8,0),(60,40,-8,2),(100,30,-10,2),(130,70,-4,-10),(95,60,-2,-6),(140,30,-8,-6),(60,80,4,-6),(-420,165,10,-3),(-385,165,8,-3),
                  (-355,165,-6,-2),(240,165,-10,3),(280,165,-10,2),(400,170,-10,10),(420,165,-12,4),(350,20,6,8),(390,15,8,3),(420,12,6,2),(-240,80,-6,-20),(-220,100,4,-14),(-235,60,-4,-20),(430,110,10,-20),(400,100,14,-16),
                  (-440,70,2,-14),(-420,30,-8,-2),(-370,20,-10,0),(-360,55,-4,-10),(-345,100,0,-14),(-340,130,4,-10),(-325,30,-8,-4),(-290,100,6,-14),(-275,120,4,-12),(-300,40,-6,-8),(-70,20,-6,-2),(-40,20,-8,0),
                  (0,20,-6,0),(30,20,-6,2),(-50,70,-3,-8),(-20,65,-2,-8),(20,70,2,-8),(60,60,-6,4),(90,30,-6,4),(115,25,-4,2),(350,28,4,8),(120,20,-4,2),(-240,40,-4,-14),(-200,90,8,-12),(-210,50,-2,-16),
                  (200,90,-4,10),(180,50,2,12),(260,110,6,8),(300,80,8,-10),(320,40,-4,-10),(380,100,8,-14),(410,120,14,-16),(430,90,-12,-10),(390,60,-2,-14),(-150,60,-2,-10),(-120,100,0,-10),(-90,40,-2,-10),
                  (200,165,-6,2),(320,162,-10,4),(100,165,-8,2)]

panel_fills = [panel_a_fills, panel_b_fills, panel_c_fills, panel_d_fills]
panel_reds = [panel_a_red, panel_b_red, panel_c_red, panel_d_red]
panel_surfaces = [panel_a_surface, panel_b_surface, panel_c_surface, panel_d_surface]
panel_dots = [panel_a_dots, panel_b_dots, panel_c_dots, panel_d_dots]
panel_arrows = [panel_a_arrows, panel_b_arrows, panel_c_arrows, panel_d_arrows]

W, H = 1839, 927
plt.rcParams['font.family'] = ['Liberation Sans', 'DejaVu Sans']
fig = plt.figure(figsize=(W / 100, H / 100), dpi=100)
RED = '#ec2a14'
LINE = '#1c3ee6'


def px_axes(left, right, top, bottom):
    return fig.add_axes([left / W, 1 - bottom / H, (right - left) / W, (bottom - top) / H])


def smooth_path(pts, close=True):
    # catmull-rom through the read points, only so the outlines do not look cut with scissors
    p = np.array(pts, dtype=float) / 1000
    n = len(p)
    if n < 3:
        return Path(p)
    verts = [p[0]]
    codes = [Path.MOVETO]
    count = n if close else n - 1
    for i in range(count):
        if close:
            p0, p1, p2, p3 = p[(i - 1) % n], p[i], p[(i + 1) % n], p[(i + 2) % n]
        else:
            p0, p1, p2, p3 = p[max(i - 1, 0)], p[i], p[i + 1], p[min(i + 2, n - 1)]
        verts += [p1 + (p2 - p0) / 6, p2 - (p3 - p1) / 6, p2]
        codes += [Path.CURVE4] * 3
    return Path(verts, codes)


def draw_fills(ax, fills, rim):
    for level, pts in fills:
        col = level_colours[level]
        if level == 3:
            ax.add_patch(PathPatch(smooth_path(pts), fc=col, ec=level_colours[2], lw=rim, zorder=2))
        else:
            ax.add_patch(PathPatch(smooth_path(pts), fc=col, ec='none', lw=0, zorder=2))


def draw_red(ax, reds, lw):
    for pts in reds:
        if len(pts) < 3:
            ax.plot(*(np.array(pts).T / 1000), color=RED, lw=lw, zorder=5)
        else:
            ax.add_patch(PathPatch(smooth_path(pts), fc='none', ec=RED, lw=lw, zorder=5))


def draw_surface(ax, pts, lw):
    ax.add_patch(PathPatch(smooth_path(pts, close=False), fc='none', ec=LINE, lw=lw, zorder=4))


# top panel
ax = px_axes(102.7, 1678, 8, 261)
ax.set_xlim(4, 11)
ax.set_ylim(0, 0.373)
draw_fills(ax, top_fills, 1.7)
ax.add_patch(PathPatch(smooth_path(top_dark_core), fc=deep_red, ec='none', zorder=3))
draw_surface(ax, top_surface, 1.9)
draw_red(ax, top_red, 1.6)
ax.vlines(section_x, 0, 0.373, color='k', ls=(0, (3, 1.5)), lw=1.5, zorder=6)
ax.plot([11, 11], [0, 0.295], color='#bbbbbb', lw=0.6, ls=':')
for sp in ['top', 'left', 'right']:
    ax.spines[sp].set_visible(False)
ax.spines['bottom'].set_color('#666666')
ax.spines['bottom'].set_linewidth(2.6)
ax.set_xticks(np.arange(4, 11.5, 0.5))
ax.set_xticklabels(['4', '4.5', '5', '5.5', '6', '6.5', '7', '7.5', '8', '8.5', '9', '9.5', '10', '10.5', '11'])
ax.set_yticks([0, 0.15, 0.3])
ax.set_yticklabels(['0', '0.15', '0.3'])
ax.tick_params(axis='x', length=11, width=0.7, color='#888888', labelsize=8.5, pad=4)
ax.tick_params(axis='y', length=11, width=1.2, color='#aaaaaa', labelsize=8.5, pad=2)
for t in ax.get_xticklabels() + ax.get_yticklabels():
    t.set_fontweight('bold')
fig.text(42 / W, 1 - 136 / H, 'z(m)', rotation=90, fontsize=17, fontweight='bold', ha='center', va='center')
fig.text(889 / W, 1 - 310 / H, 'x(m)', fontsize=17, fontweight='bold', ha='center', va='center')
for name, X in zip(section_names, [709, 767, 812, 876]):
    fig.text(X / W, 1 - 62 / H, name, fontsize=16, ha='center', va='center')
fig.text(1296 / W, 1 - 77 / H, 'y = 0.0805', fontsize=20.8, ha='center', va='center')
fig.text(1290 / W, 1 - 27 / H, 'The lower panels are the cross-sections (a-d)', fontsize=28.3, color='#0a0af0',
         family=['Lato', 'DejaVu Sans'], ha='center', va='center')
serif = ['Liberation Serif', 'DejaVu Serif']
fig.text(1798.5 / W, 1 - 440 / H, 'le void fraction  in log-scale', rotation=270, fontsize=27, fontweight='bold',
         family=serif, ha='center', va='bottom')
fig.text(1799 / W, 1 - 439 / H, '(', rotation=270, fontsize=27, family=serif, ha='center', va='top')
fig.text(1801.5 / W, 1 - 453 / H, '%', rotation=270, fontsize=27, style='italic', family=serif, ha='center', va='top')
fig.text(1799 / W, 1 - 487 / H, ')', rotation=270, fontsize=27, family=serif, ha='center', va='top')

# colour bar
cax = px_axes(1695, 1719, 59, 261)
cmap = ListedColormap(level_colours)
cax.pcolormesh([0, 1], bar_edges, np.arange(len(bar_edges) - 1).reshape(-1, 1), cmap=cmap, vmin=0, vmax=len(level_colours) - 1)
cax.set_xticks([])
cax.yaxis.tick_right()
cax.set_yticks(bar_ticks)
cax.set_yticklabels(['-2', '-1.5', '-1', '-0.5', '0'], fontweight='bold', fontsize=8.5)
cax.tick_params(axis='y', length=3, width=0.7, color='#888888', direction='in', pad=3)
for sp in cax.spines.values():
    sp.set_color('#999999')
    sp.set_linewidth(0.8)

# the four cross sections
panel_boxes = [(76.5, 826.5, 353, 562), (1014.7, 1764.7, 353, 562), (76.5, 826.5, 657, 867), (1014.7, 1764.7, 657, 867)]
panel_names = ['(a)', '(b)', '(c)', '(d)']
name_pos = [(717, 338), (1656, 338), (717, 643), (1656, 643)]
dot_y = np.arange(-0.44, 0.45, 0.0225)
dot_z = np.arange(0.158, 0.245, 0.014)

for i, box in enumerate(panel_boxes):
    ax = px_axes(*box)
    ax.set_xlim(-0.45, 0.45)
    ax.set_ylim(0, 0.251)
    draw_fills(ax, panel_fills[i], 2.4)
    gy, gz = np.meshgrid(dot_y, dot_z)
    ax.plot(gy.ravel(), gz.ravel(), ls='none', marker='.', ms=1.3, color='#aab4f5', mew=0, zorder=1)
    ax.plot(dot_y, np.full_like(dot_y, 0.005), ls='none', marker='_', ms=5, color='#7888f0', mew=0.7, zorder=3)
    a = np.array(panel_arrows[i]) / 1000
    ax.quiver(a[:, 0], a[:, 1], a[:, 2], a[:, 3], angles='xy', scale_units='xy', scale=1, color='#4a58ee',
              width=0.0011, headwidth=4, headlength=5, zorder=3)
    draw_surface(ax, panel_surfaces[i], 1.9)
    draw_red(ax, panel_reds[i], 1.8)
    d = np.array(panel_dots[i]) / 1000
    ax.plot(d[:, 0], d[:, 1], ls='none', marker='o', ms=2.6, color=RED, mew=0, zorder=5)
    ax.plot([cut_y, cut_y], [0, 0.251], color='k', ls=(0, (3, 1.5)), lw=1.5, zorder=6)
    ax.spines['top'].set_visible(False)
    ax.spines['right'].set_visible(False)
    ax.spines['left'].set_color('#777777')
    ax.spines['left'].set_linewidth(0.8)
    ax.spines['bottom'].set_color('#111111')
    ax.spines['bottom'].set_linewidth(2.2)
    ax.set_xticks([-0.3, 0, 0.3])
    ax.set_xticklabels(['-0.3', '0', '0.3'], fontweight='bold', fontsize=9)
    ax.set_yticks([0, 0.15])
    ax.set_yticklabels(['0', '0.15'], fontweight='bold', fontsize=9)
    ax.tick_params(axis='x', length=8, width=0.7, color='#888888', pad=3)
    ax.tick_params(axis='y', length=5, width=0.7, color='#888888', pad=2)
    cx = (box[0] + box[1]) / 2
    fig.text(cx / W, 1 - (box[3] + 45) / H, 'y(m)', fontsize=17, fontweight='bold', ha='center', va='center')
    fig.text((box[0] - 50) / W, 1 - (box[2] + 110) / H, 'z(m)', rotation=90, fontsize=17, fontweight='bold', ha='center', va='center')
    fig.text(name_pos[i][0] / W, 1 - name_pos[i][1] / H, panel_names[i], fontsize=16, ha='center', va='center')

fig.savefig('out.png', dpi=100)
